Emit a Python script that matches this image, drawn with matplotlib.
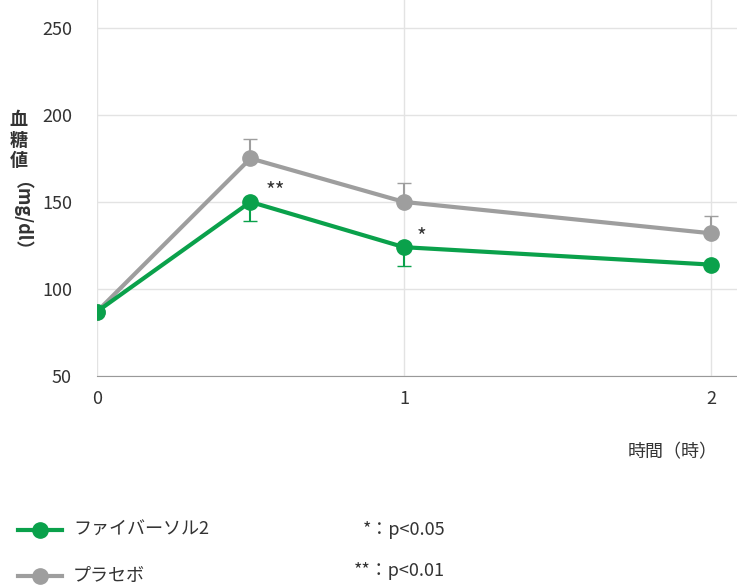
import matplotlib
matplotlib.use("Agg")
import matplotlib.pyplot as plt

plt.rcParams['font.family'] = ['Noto Sans CJK JP', 'DejaVu Sans']

x = [0, 0.5, 1, 2]
fiber = [87, 150, 124, 114]
fiber_err_low = [0, 11, 11, 0]
placebo = [87, 175, 150, 132]
placebo_err_high = [0, 11, 11, 10]
yticks = [50, 100, 150, 200, 250]
xticks = [0, 1, 2]

GREEN = '#0aa14b'
GRAY = '#9e9e9e'

fig = plt.figure(figsize=(7.37, 5.88), dpi=100)
ax = fig.add_axes([97/737, 1-376/588, 1-97/737, 376/588])
ax.set_xlim(0, 2.085)
ax.set_ylim(50, 266)

ax.errorbar(x, placebo, yerr=[[0]*4, placebo_err_high], color=GRAY, lw=3,
            marker='o', ms=11, ecolor=GRAY, elinewidth=1.5, capsize=5, zorder=3)
ax.errorbar(x, fiber, yerr=[fiber_err_low, [0]*4], color=GREEN, lw=3,
            marker='o', ms=11, ecolor=GREEN, elinewidth=1.5, capsize=5, zorder=4)

ax.text(0.55, 152, '**', fontsize=15, color='#333')
ax.text(1.04, 126, '*', fontsize=15, color='#333')

ax.set_xticks(xticks)
ax.set_yticks(yticks)
ax.grid(True, color='#e3e3e3', lw=1)
ax.set_axisbelow(True)
for s in ['top', 'right', 'left']:
    ax.spines[s].set_visible(False)
ax.spines['bottom'].set_color('#999')
ax.tick_params(length=0, labelsize=13, colors='#333', pad=10)
ax.tick_params(axis='y', pad=18)

fig.text(0.013, 1-140/588, '血\n糖\n値', fontsize=13, fontweight='bold',
         ha='left', va='center', linespacing=1.1, color='#333')
fig.text(0.016, 1-225/588, '（mg/dl）', fontsize=13, fontweight='bold',
         rotation=270, ha='center', va='center', color='#333')
fig.text(718/737, 1-452/588, '時間（時）', fontsize=13, ha='right', va='center', color='#333')

# legend
for yy, c, lab in [(530, GREEN, 'ファイバーソル2'), (576, GRAY, 'プラセボ')]:
    fig.add_artist(plt.Line2D([18/737, 62/737], [1-yy/588]*2, color=c, lw=3))
    fig.add_artist(plt.Line2D([40/737], [1-yy/588], color=c, marker='o', ms=11))
    fig.text(73/737, 1-yy/588, lab, fontsize=13, va='center', color='#333')
fig.text(445/737, 1-530/588, '*：p<0.05', fontsize=13, va='center', ha='right', color='#333')
fig.text(445/737, 1-571/588, '**：p<0.01', fontsize=13, va='center', ha='right', color='#333')

fig.savefig('out.png', dpi=100)
